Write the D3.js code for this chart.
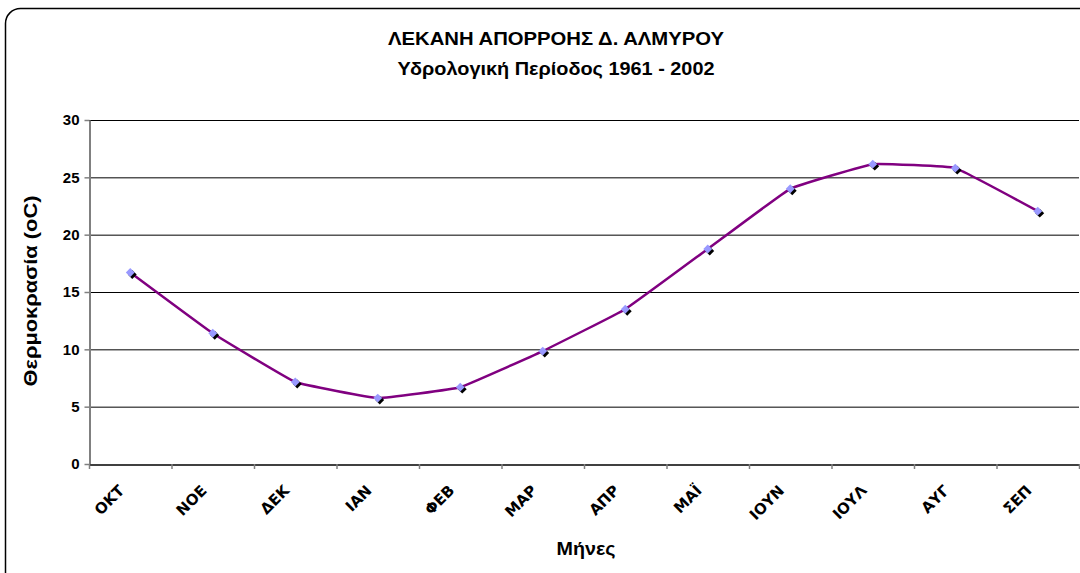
<!DOCTYPE html>
<html><head><meta charset="utf-8">
<script src="https://cdn.jsdelivr.net/npm/d3@7"></script>
<style>body{margin:0;background:#fff}svg{display:block;font-family:"Liberation Sans",Arial,sans-serif}</style>
</head><body><svg id="c" width="1080" height="573"></svg>
<script>
const categories = ["ΟΚΤ","ΝΟΕ","ΔΕΚ","ΙΑΝ","ΦΕΒ","ΜΑΡ","ΑΠΡ","ΜΑΪ","ΙΟΥΝ","ΙΟΥΛ","ΑΥΓ","ΣΕΠ"];
const temperature = [16.7, 11.4, 7.15, 5.75, 6.7, 9.85, 13.5, 18.75, 24.0, 26.15, 25.8, 22.05];
const yTicks = [0,5,10,15,20,25,30];
const titleLines = ["ΛΕΚΑΝΗ ΑΠΟΡΡΟΗΣ Δ. ΑΛΜΥΡΟΥ","Υδρολογική Περίοδος 1961 - 2002"];
const yTitle = "Θερμοκρασία (oC)";
const xTitle = "Μήνες";

const svg = d3.select("#c");
svg.append("rect").attr("x",5.5).attr("y",8.5).attr("width",1100).attr("height",580)
  .attr("rx",15).attr("fill","none").attr("stroke","#000").attr("stroke-width",1.5);

const L=89, R=1079, T=120, B=464;
const x = d3.scaleBand().domain(categories).range([L,R]);
const y = d3.scaleLinear().domain([0,30]).range([B,T]);

svg.append("g").selectAll("line").data(yTicks.filter(d=>d>0)).join("line")
  .attr("x1",L).attr("x2",R).attr("y1",d=>y(d)+0.5).attr("y2",d=>y(d)+0.5)
  .attr("stroke","#000").attr("stroke-width",1);

const ya = svg.append("g").attr("transform",`translate(${L+0.5},0)`)
  .call(d3.axisLeft(y).tickValues(yTicks).tickSize(5).tickSizeOuter(0).tickPadding(5));
ya.select(".domain").attr("stroke","#808080").attr("stroke-width",2);
ya.selectAll(".tick line").attr("stroke","#808080").attr("stroke-width",1.5);
ya.selectAll("text").attr("font-size",15).attr("font-weight","bold").attr("fill","#000")
  .attr("font-family","Liberation Sans, Arial, sans-serif");

const xa = svg.append("g").attr("transform",`translate(0,${B+0.5})`)
  .call(d3.axisBottom(x).tickSize(0).tickSizeOuter(0));
xa.select(".domain").attr("stroke","#000").attr("stroke-width",1.5);
const edges = categories.map(c=>x(c)).concat([R]);
svg.append("g").selectAll("line").data(edges).join("line")
  .attr("x1",d=>d+0.5).attr("x2",d=>d+0.5).attr("y1",B).attr("y2",B+5)
  .attr("stroke","#808080").attr("stroke-width",1.5);
xa.selectAll(".tick text")
  .attr("font-size",15).attr("font-weight","bold").attr("fill","#000")
  .attr("font-family","DejaVu Sans, sans-serif")
  .attr("text-anchor","end").attr("dy",0).attr("y",0)
  .attr("transform","translate(-5,27) rotate(-45)");

const line = d3.line().x((d,i)=>x(categories[i])+x.bandwidth()/2).y(d=>y(d))
  .curve(d3.curveCardinal.tension(0.75));
svg.append("path").datum(temperature).attr("d",line)
  .attr("fill","none").attr("stroke","#800080").attr("stroke-width",2.5);

const sym = d3.symbol().type(d3.symbolDiamond2).size(50);
svg.append("g").selectAll("path").data(temperature).join("path")
  .attr("d",sym)
  .attr("transform",(d,i)=>`translate(${x(categories[i])+x.bandwidth()/2+2},${y(d)+2})`)
  .attr("fill","#000");
svg.append("g").selectAll("path").data(temperature).join("path")
  .attr("d",sym)
  .attr("transform",(d,i)=>`translate(${x(categories[i])+x.bandwidth()/2},${y(d)})`)
  .attr("fill","#9999FF");

const titleW = [336, 317];
svg.append("g").selectAll("text").data(titleLines).join("text")
  .attr("x",556).attr("y",(d,i)=>45+i*30).attr("text-anchor","middle")
  .attr("font-size",19).attr("font-weight","bold")
  .attr("textLength",(d,i)=>titleW[i]).attr("lengthAdjust","spacingAndGlyphs").text(d=>d);
svg.append("text").attr("transform","translate(37,291) rotate(-90)").attr("text-anchor","middle")
  .attr("font-size",19).attr("font-weight","bold")
  .attr("textLength",191).attr("lengthAdjust","spacingAndGlyphs").text(yTitle);
svg.append("text").attr("x",586).attr("y",555).attr("text-anchor","middle")
  .attr("font-size",19).attr("font-weight","bold")
  .attr("textLength",59).attr("lengthAdjust","spacingAndGlyphs").text(xTitle);
</script></body></html>
